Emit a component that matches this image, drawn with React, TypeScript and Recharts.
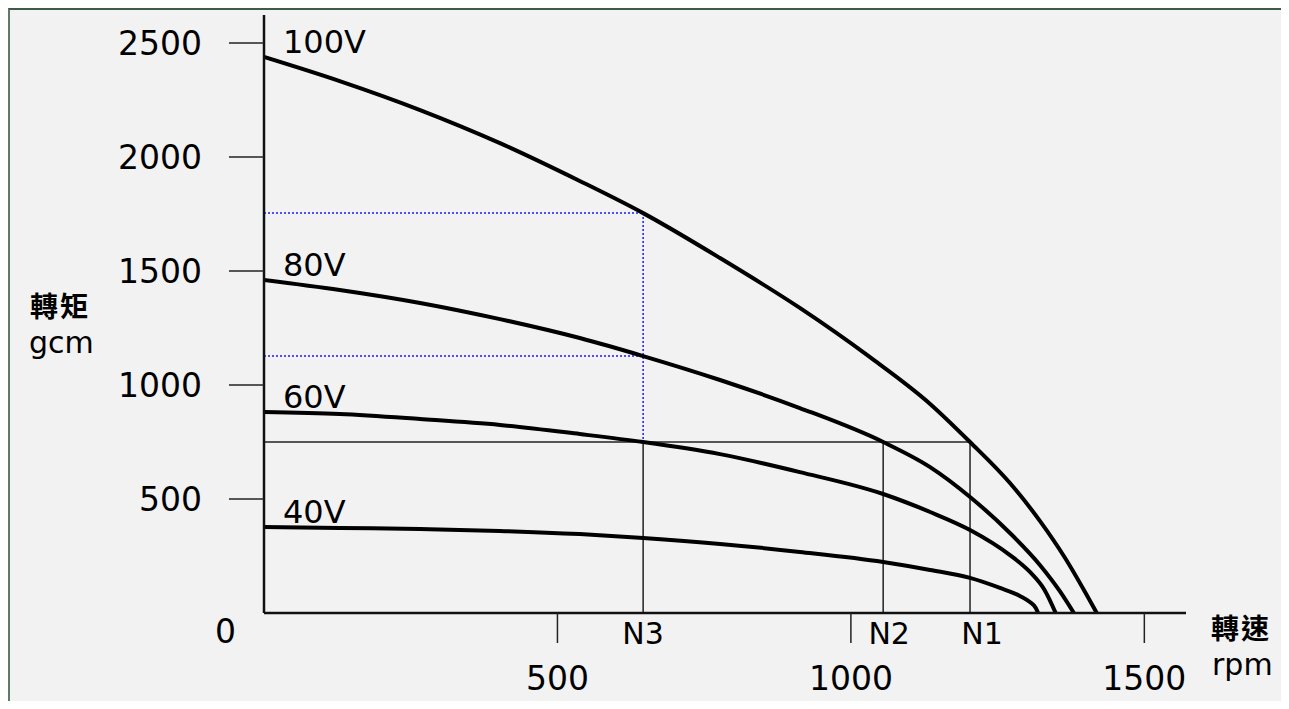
import React from 'react';
import { LineChart, Line, XAxis, YAxis, ReferenceLine } from 'recharts';

// 轉速 (rpm) / 轉矩 (gcm) readings for each supply voltage
const RPM_100V = [0, 129, 266, 402, 538, 646, 777, 913, 1032, 1135, 1203, 1271, 1322, 1365, 1399, 1419];
const GCM_100V = [2439, 2333, 2206, 2061, 1895, 1754, 1557, 1338, 1123, 917, 750, 570, 404, 241, 92, 0];
const RPM_80V = [0, 129, 266, 402, 538, 646, 777, 913, 1055, 1135, 1203, 1271, 1322, 1356, 1380];
const GCM_80V = [1461, 1417, 1360, 1289, 1206, 1127, 1022, 899, 750, 640, 509, 351, 211, 96, 0];
const RPM_60V = [0, 129, 266, 402, 538, 646, 777, 913, 1055, 1135, 1203, 1271, 1305, 1330, 1349];
const GCM_60V = [882, 873, 851, 825, 785, 750, 697, 618, 522, 443, 364, 254, 180, 101, 0];
const RPM_40V = [0, 129, 266, 402, 538, 646, 777, 913, 1055, 1135, 1203, 1254, 1288, 1305, 1315, 1319];
const GCM_40V = [377, 373, 368, 360, 346, 329, 303, 268, 224, 189, 154, 110, 75, 48, 22, 0];

const VOLTAGES = ['100V', '80V', '60V', '40V'];

const X_TICKS = [500, 1000, 1500];
const Y_TICKS = [500, 1000, 1500, 2000, 2500];

// operating points
const N_NAMES = ['N3', 'N2', 'N1'];
const N_RPM = [646, 1055, 1203];
const LOAD_GCM = 750;
const N3_100V_GCM = 1754;
const N3_80V_GCM = 1127;

const toPoints = (rpm: number[], gcm: number[]) => rpm.map((r, i) => ({ rpm: r, gcm: gcm[i] }));

const SERIES = [
  toPoints(RPM_100V, GCM_100V),
  toPoints(RPM_80V, GCM_80V),
  toPoints(RPM_60V, GCM_60V),
  toPoints(RPM_40V, GCM_40V),
];

const LATIN = '"DejaVu Sans", Verdana, sans-serif';
const CJK = '"Noto Sans CJK TC", "Noto Sans CJK SC", sans-serif';

const YTick = (props: any) => (
  <text x={props.x - 25} y={props.y} textAnchor="end" dominantBaseline="central"
    fontFamily={LATIN} fontSize={33} fill="#000">
    {props.payload.value}
  </text>
);

const XTick = (props: any) => (
  <text x={props.x} y={props.y + 45} textAnchor="middle"
    fontFamily={LATIN} fontSize={33} fill="#000">
    {props.payload.value}
  </text>
);

const curveLabel = (name: string) => (p: any) =>
  p.index === 0 ? (
    <text key={name} x={p.x + 19} y={p.y - 4} fontFamily={LATIN} fontSize={32} fill="#000">
      {name}
    </text>
  ) : null;

const nLabel = (name: string, dx: number) => (p: any) => {
  const vb = p.viewBox || {};
  return (
    <text x={vb.x + dx} y={vb.y + vb.height + 31} textAnchor="middle"
      fontFamily={LATIN} fontSize={30} fill="#000">
      {name}
    </text>
  );
};
const N_LABEL_DX = [0, 6, 12];

const Watermark = ({ left, width, radius }: { left: number; width: number; radius: string }) => (
  <div style={{ position: 'absolute', top: 0, left, width, height: 8, background: '#c0c0c0', borderRadius: radius }} />
);

export default function App() {
  return (
    <div style={{ position: 'relative', margin: -8, width: 1289, height: 709, background: '#fff', overflow: 'hidden' }}>
      <Watermark left={700} width={103} radius="0 0 40px 12px" />
      <Watermark left={925} width={53} radius="0" />
      <Watermark left={987} width={116} radius="0 0 30px 30px" />
      <div style={{
        position: 'absolute', left: 8, top: 8, width: 1281, height: 701, background: '#f2f2f2',
        borderTop: '2px solid #3d5a4a', borderLeft: '2px solid #5f7a6a', boxSizing: 'border-box',
      }} />

      <div style={{ position: 'absolute', left: 0, top: 0 }}>
        <LineChart width={1289} height={709} margin={{ top: 15, right: 103, left: 0, bottom: 0 }}>
          <XAxis type="number" dataKey="rpm" domain={[0, 1571]} ticks={X_TICKS} allowDataOverflow
            height={96} tickSize={30} tick={<XTick />}
            axisLine={{ stroke: '#111', strokeWidth: 2.5 }} tickLine={{ stroke: '#222', strokeWidth: 1.5 }} />
          <YAxis type="number" dataKey="gcm" domain={[0, 2623]} ticks={Y_TICKS} allowDataOverflow
            width={264} tickSize={35} tick={<YTick />}
            axisLine={{ stroke: '#111', strokeWidth: 2.5 }} tickLine={{ stroke: '#222', strokeWidth: 1.5 }} />

          <ReferenceLine segment={[{ x: 0, y: N3_100V_GCM }, { x: N_RPM[0], y: N3_100V_GCM }]}
            stroke="#1a1aff" strokeWidth={1.5} strokeDasharray="2 2" />
          <ReferenceLine segment={[{ x: 0, y: N3_80V_GCM }, { x: N_RPM[0], y: N3_80V_GCM }]}
            stroke="#1a1aff" strokeWidth={1.5} strokeDasharray="2 2" />
          <ReferenceLine segment={[{ x: N_RPM[0], y: N3_100V_GCM }, { x: N_RPM[0], y: LOAD_GCM }]}
            stroke="#1a1aff" strokeWidth={1.5} strokeDasharray="2 2" />

          <ReferenceLine segment={[{ x: 0, y: LOAD_GCM }, { x: N_RPM[2], y: LOAD_GCM }]}
            stroke="#222" strokeWidth={1.5} />
          {N_RPM.map((r, i) => (
            <ReferenceLine key={N_NAMES[i]} segment={[{ x: r, y: LOAD_GCM }, { x: r, y: 0 }]}
              stroke="#222" strokeWidth={1.5} label={nLabel(N_NAMES[i], N_LABEL_DX[i])} />
          ))}

          {SERIES.map((pts, i) => (
            <Line key={VOLTAGES[i]} data={pts} dataKey="gcm" type="monotone" stroke="#000"
              strokeWidth={4} strokeLinecap="round" dot={false} activeDot={false}
              isAnimationActive={false} label={curveLabel(VOLTAGES[i])} />
          ))}
        </LineChart>
      </div>

      <div style={{ position: 'absolute', left: 215, top: 612, fontFamily: LATIN, fontSize: 33, lineHeight: '40px' }}>0</div>
      <div style={{ position: 'absolute', left: 30, top: 289, fontFamily: CJK, fontSize: 28, fontWeight: 700, lineHeight: '32px', letterSpacing: 2 }}>轉矩</div>
      <div style={{ position: 'absolute', left: 29, top: 328, fontFamily: LATIN, fontSize: 30, lineHeight: '30px' }}>gcm</div>
      <div style={{ position: 'absolute', left: 1211, top: 611, fontFamily: CJK, fontSize: 28, fontWeight: 700, lineHeight: '32px', letterSpacing: 2 }}>轉速</div>
      <div style={{ position: 'absolute', left: 1212, top: 650, fontFamily: LATIN, fontSize: 30, lineHeight: '30px' }}>rpm</div>
    </div>
  );
}
